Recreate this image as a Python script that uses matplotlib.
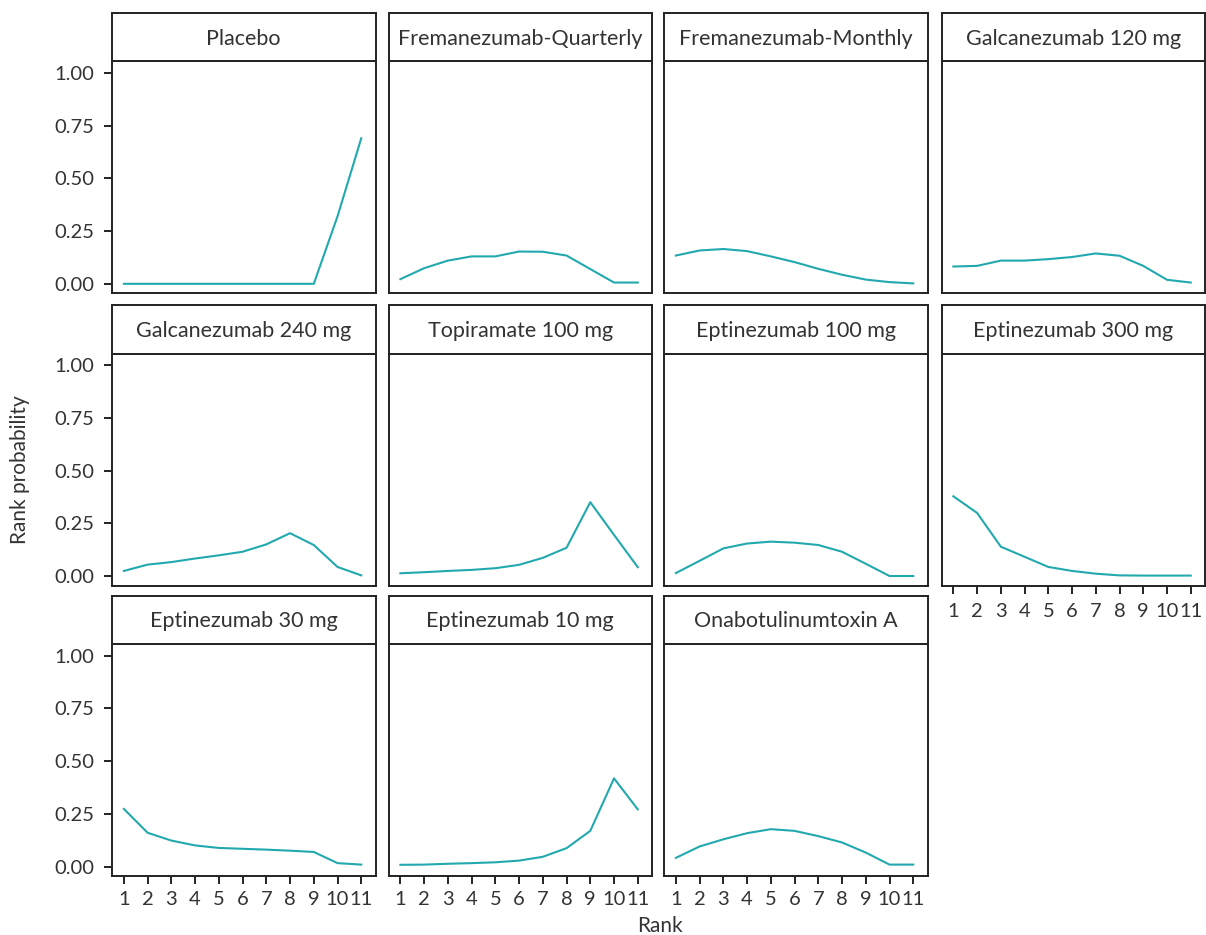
import matplotlib
matplotlib.use("Agg")
import matplotlib.pyplot as plt

plt.rcParams["font.family"] = ["Lato", "DejaVu Sans"]

TREATMENTS = [
    "Placebo",
    "Fremanezumab-Quarterly",
    "Fremanezumab-Monthly",
    "Galcanezumab 120 mg",
    "Galcanezumab 240 mg",
    "Topiramate 100 mg",
    "Eptinezumab 100 mg",
    "Eptinezumab 300 mg",
    "Eptinezumab 30 mg",
    "Eptinezumab 10 mg",
    "Onabotulinumtoxin A",
]

RANKS = list(range(1, 12))

placebo = [0, 0, 0, 0, 0, 0, 0, 0, 0, 0.32, 0.69]
fremanezumab_q = [0.022, 0.074, 0.11, 0.13, 0.13, 0.153, 0.152, 0.134, 0.07, 0.006, 0.006]
fremanezumab_m = [0.134, 0.158, 0.165, 0.155, 0.13, 0.103, 0.071, 0.043, 0.02, 0.008, 0.002]
galcanezumab_120 = [0.082, 0.085, 0.11, 0.11, 0.117, 0.127, 0.144, 0.133, 0.085, 0.019, 0.006]
galcanezumab_240 = [0.024, 0.054, 0.066, 0.083, 0.098, 0.115, 0.15, 0.203, 0.147, 0.043, 0.003]
topiramate_100 = [0.013, 0.018, 0.024, 0.029, 0.037, 0.053, 0.086, 0.134, 0.35, 0.195, 0.042]
eptinezumab_100 = [0.014, 0.072, 0.131, 0.154, 0.163, 0.158, 0.147, 0.115, 0.058, 0.0, 0.0]
eptinezumab_300 = [0.378, 0.299, 0.139, 0.091, 0.043, 0.024, 0.011, 0.003, 0.002, 0.002, 0.002]
eptinezumab_30 = [0.273, 0.16, 0.123, 0.1, 0.088, 0.084, 0.08, 0.075, 0.069, 0.016, 0.009]
eptinezumab_10 = [0.008, 0.009, 0.013, 0.016, 0.02, 0.028, 0.046, 0.087, 0.169, 0.418, 0.271]
onabotulinumtoxin = [0.041, 0.095, 0.129, 0.158, 0.177, 0.169, 0.144, 0.114, 0.066, 0.009, 0.009]

SERIES = [
    placebo, fremanezumab_q, fremanezumab_m, galcanezumab_120,
    galcanezumab_240, topiramate_100, eptinezumab_100, eptinezumab_300,
    eptinezumab_30, eptinezumab_10, onabotulinumtoxin,
]

Y_TICKS = [0.0, 0.25, 0.5, 0.75, 1.0]
Y_TICK_LABELS = ["0.00", "0.25", "0.50", "0.75", "1.00"]

LINE_COLOR = "#22A9AE"
FRAME_COLOR = "#222222"
TEXT_COLOR = "#333333"

W, H = 1206, 935
COL_LEFT = [112, 388.5, 664, 941.5]
ROW_TOP = [61.3, 353.5, 644.0]
PANEL_W = 263.5
PANEL_H = 232.0
STRIP_H = 48.0

fig = plt.figure(figsize=(W / 100, H / 100), dpi=100)


def px_rect(left, top, width, height):
    return [left / W, (H - top - height) / H, width / W, height / H]


def style_frame(ax):
    for sp in ax.spines.values():
        sp.set_color(FRAME_COLOR)
        sp.set_linewidth(1.4)


for i, (name, values) in enumerate(zip(TREATMENTS, SERIES)):
    row, col = divmod(i, 4)
    left, top = COL_LEFT[col], ROW_TOP[row]

    ax = fig.add_axes(px_rect(left, top, PANEL_W, PANEL_H))
    ax.plot(RANKS, values, color=LINE_COLOR, lw=1.5, solid_joinstyle="round")
    ax.set_xlim(0.5, 11.6)
    ax.set_ylim(-0.045, 1.055)
    ax.set_xticks(RANKS)
    ax.set_yticks(Y_TICKS)
    ax.tick_params(direction="out", length=5.5, width=1.4, color=FRAME_COLOR,
                   labelsize=14.5, labelcolor=TEXT_COLOR)
    ax.tick_params(axis="x", pad=5)
    ax.tick_params(axis="y", pad=7)
    style_frame(ax)

    # x labels only where no panel sits below
    show_x = row == 2 or (row == 1 and col == 3)
    if show_x:
        ax.set_xticklabels([str(r) for r in RANKS])
        if row == 1:
            ax.tick_params(axis="x", pad=7)
    else:
        ax.tick_params(axis="x", length=0, labelbottom=False)
    if col == 0:
        ax.set_yticklabels(Y_TICK_LABELS)
    else:
        ax.tick_params(axis="y", length=0, labelleft=False)

    strip = fig.add_axes(px_rect(left, top - STRIP_H, PANEL_W, STRIP_H))
    strip.set_xticks([])
    strip.set_yticks([])
    style_frame(strip)
    strip.text(0.5, 0.47, name, ha="center", va="center", fontsize=15.5,
               color=TEXT_COLOR, transform=strip.transAxes)

fig.text(660 / W, 1 - 926 / H, "Rank", ha="center", va="center",
         fontsize=15, color=TEXT_COLOR)
fig.text(20 / W, 1 - 470 / H, "Rank probability", ha="center", va="center",
         rotation=90, fontsize=15, color=TEXT_COLOR)

fig.savefig("out.png", dpi=100, facecolor="white")
